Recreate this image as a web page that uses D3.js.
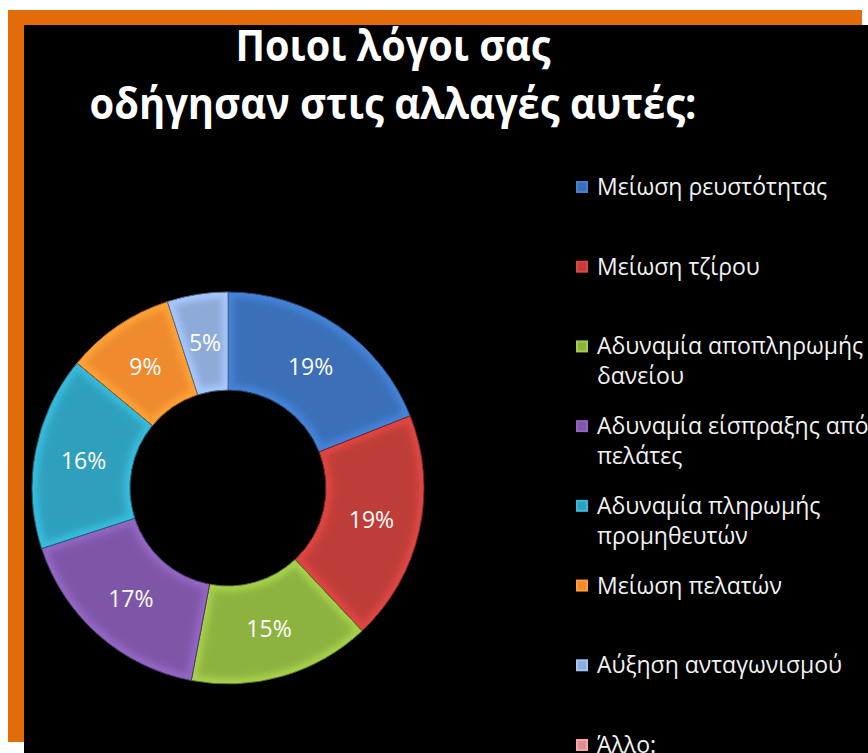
<!DOCTYPE html>
<html>
<head>
<meta charset="utf-8">
<script src="https://cdn.jsdelivr.net/npm/d3@7"></script>
<style>
  html, body { margin: 0; padding: 0; background: #ffffff; }
  svg { display: block; }
</style>
</head>
<body>
<svg id="chart" width="868" height="753"></svg>
<script>
// Reasons for the changes (share of answers, %)
const categories = [
  "Μείωση ρευστότητας",
  "Μείωση τζίρου",
  "Αδυναμία αποπληρωμής\nδανείου",
  "Αδυναμία είσπραξης από\nπελάτες",
  "Αδυναμία πληρωμής\nπρομηθευτών",
  "Μείωση πελατών",
  "Αύξηση ανταγωνισμού",
  "Άλλο:"
];
const values = [19, 19, 15, 17, 16, 9, 5, 0];
const colors = ["#3a70b9", "#bf3c39", "#8db23f", "#7e57a8", "#2fa0bd", "#ef8a2e", "#8eaad8", "#d9908f"];
const titleLines = ["Ποιοι λόγοι σας", "οδήγησαν στις αλλαγές αυτές:"];

const svg = d3.select("#chart");
const defs = svg.append("defs");

// Frame: orange border strips and black slide area
svg.append("rect").attr("x", 8).attr("y", 10).attr("width", 854).attr("height", 16).attr("fill", "#e36c0a");
svg.append("rect").attr("x", 8).attr("y", 10).attr("width", 17).attr("height", 732).attr("fill", "#e36c0a");
svg.append("rect").attr("x", 24).attr("y", 25).attr("width", 844).attr("height", 728).attr("fill", "#000000");

// Title
const title = svg.append("text")
  .attr("fill", "#ffffff")
  .attr("font-family", "'Open Sans', 'Noto Sans', sans-serif")
  .attr("font-weight", "bold")
  .attr("font-size", 43)
  .attr("text-anchor", "middle");
const titleWidths = [315, 607];
titleLines.forEach((t, i) => {
  title.append("tspan")
    .attr("x", 393)
    .attr("y", 61 + i * 58)
    .attr("textLength", titleWidths[i])
    .attr("lengthAdjust", "spacingAndGlyphs")
    .text(t);
});

// Donut
const cx = 228, cy = 488, rOuter = 196, rInner = 98;
const data = categories.map((c, i) => ({ name: c, value: values[i], color: colors[i], i }));
const pie = d3.pie().value(d => d.value).sort(null).startAngle(0).endAngle(2 * Math.PI);
const arcs = pie(data).filter(a => a.data.value > 0);

const arcOuter = d3.arc().innerRadius(rInner).outerRadius(rOuter);
const arcCore = d3.arc().innerRadius(rInner + 6).outerRadius(rOuter - 6)
  .padAngle(0.075).padRadius(150);

const blur = defs.append("filter").attr("id", "soft")
  .attr("x", "-20%").attr("y", "-20%").attr("width", "140%").attr("height", "140%");
blur.append("feGaussianBlur").attr("stdDeviation", 3);

const g = svg.append("g").attr("transform", `translate(${cx},${cy})`);

arcs.forEach((a, k) => {
  const clipId = "clip" + k;
  defs.append("clipPath").attr("id", clipId)
    .append("path").attr("d", arcOuter(a));
  const base = d3.color(a.data.color);
  const slice = g.append("g").attr("clip-path", `url(#${clipId})`);
  // lighter rim gives the bevelled edge
  slice.append("path").attr("d", arcOuter(a)).attr("fill", base.brighter(0.45).formatHex());
  slice.append("path").attr("d", arcCore(a)).attr("fill", base.formatHex()).attr("filter", "url(#soft)");
  g.append("path").attr("d", arcOuter(a))
    .attr("fill", "none")
    .attr("stroke", base.darker(1.2).formatHex())
    .attr("stroke-width", 1);
});

// Percentage labels
g.selectAll("text.pct")
  .data(arcs)
  .join("text")
  .attr("class", "pct")
  .attr("transform", d => `translate(${arcOuter.centroid(d)})`)
  .attr("text-anchor", "middle")
  .attr("dy", "0.36em")
  .attr("fill", "#ffffff")
  .attr("font-family", "'Open Sans', 'Noto Sans', sans-serif")
  .attr("font-size", 23)
  .text(d => d3.format(".0%")(d.data.value / 100));

// Legend
const legendY = d3.scalePoint().domain(d3.range(categories.length)).range([187, 745]);
const legend = svg.append("g")
  .attr("font-family", "'Open Sans', 'Noto Sans', sans-serif")
  .attr("font-size", 23)
  .attr("fill", "#f2f2f2");

data.forEach(d => {
  const y = legendY(d.i);
  const base = d3.color(d.color);
  const m = legend.append("g").attr("transform", `translate(582,${y})`);
  m.append("rect").attr("x", -6).attr("y", -6).attr("width", 12).attr("height", 12)
    .attr("fill", base.brighter(0.4).formatHex());
  m.append("rect").attr("x", -4).attr("y", -4).attr("width", 8).attr("height", 8)
    .attr("fill", base.formatHex());
  const t = legend.append("text").attr("x", 597).attr("y", y + 8);
  d.name.split("\n").forEach((line, j) => {
    t.append("tspan").attr("x", 597).attr("dy", j === 0 ? 0 : 30).text(line);
  });
});
</script>
</body>
</html>
